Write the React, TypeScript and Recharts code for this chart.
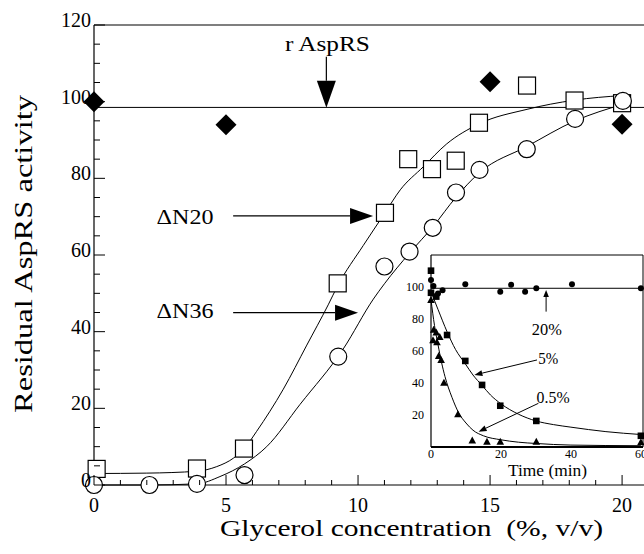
import React from 'react';
import { ComposedChart, Line, Scatter, XAxis, YAxis, ReferenceLine, ReferenceDot } from 'recharts';

const SERIF = 'Liberation Serif, Tinos, Times New Roman, Times, serif';

// ---------- main chart data ----------
const rAspRSPoints = [
  { x: 0, y: 100 }, { x: 5, y: 94 }, { x: 15, y: 105.2 }, { x: 20, y: 94.1 },
];
const rAspRSLevel = 98.5;

const dN20Points = [
  { x: 0.1, y: 4.2 }, { x: 3.9, y: 4.3 }, { x: 5.68, y: 9.5 }, { x: 9.23, y: 52.6 },
  { x: 11.02, y: 71 }, { x: 11.9, y: 85 }, { x: 12.8, y: 82.4 }, { x: 13.7, y: 84.6 },
  { x: 14.58, y: 94.5 }, { x: 16.4, y: 104.2 }, { x: 18.2, y: 100.3 }, { x: 20, y: 99.6 },
];
const dN36Points = [
  { x: 0, y: 0 }, { x: 2.1, y: 0 }, { x: 3.9, y: 0.3 }, { x: 5.7, y: 2.6 },
  { x: 9.25, y: 33.5 }, { x: 11.0, y: 57 }, { x: 11.95, y: 60.9 }, { x: 12.83, y: 67.1 },
  { x: 13.71, y: 76.3 }, { x: 14.6, y: 82.2 }, { x: 16.39, y: 87.6 }, { x: 18.22, y: 95.5 },
  { x: 20.03, y: 100.2 },
];
const dN20Fit = [
  { x: 0, y: 3 }, { x: 2, y: 3.1 }, { x: 3.9, y: 3.6 }, { x: 4.65, y: 4.8 }, { x: 5.28, y: 7 },
  { x: 5.68, y: 9.4 }, { x: 6.16, y: 14 }, { x: 7.17, y: 25 }, { x: 8.06, y: 36.5 },
  { x: 8.87, y: 47 }, { x: 9.23, y: 52 }, { x: 10.2, y: 62.5 }, { x: 11.02, y: 71 },
  { x: 11.6, y: 77 }, { x: 12.47, y: 83 }, { x: 13.36, y: 89 }, { x: 14.58, y: 94.2 },
  { x: 16.4, y: 98 }, { x: 18.2, y: 100.4 }, { x: 20, y: 101.6 },
];
const dN36Fit = [
  { x: 0, y: 0 }, { x: 2, y: 0 }, { x: 3.9, y: 0.3 }, { x: 4.77, y: 2.2 }, { x: 5.7, y: 5.5 },
  { x: 6.54, y: 10 }, { x: 7.8, y: 21 }, { x: 9.44, y: 35.5 }, { x: 10.58, y: 48.5 },
  { x: 11.0, y: 52.5 }, { x: 11.95, y: 60.5 }, { x: 12.85, y: 67.5 }, { x: 13.7, y: 75 },
  { x: 14.6, y: 81.5 }, { x: 16.39, y: 88.3 }, { x: 18.22, y: 95 }, { x: 20.03, y: 99.3 },
];
const mainXTicks = [0, 1, 2, 3, 4, 5, 6, 7, 8, 9, 10, 11, 12, 13, 14, 15, 16, 17, 18, 19, 20];
const mainYTicks = [0, 5, 10, 15, 20, 25, 30, 35, 40, 45, 50, 55, 60, 65, 70, 75, 80, 85, 90, 95, 100, 105, 110, 115, 120];

// ---------- inset data ----------
const inset20Points = [
  { x: 0, y: 104.4 }, { x: 0.7, y: 100.6 }, { x: 2, y: 96 }, { x: 3.3, y: 98 },
  { x: 9.8, y: 101.7 }, { x: 19.8, y: 97.1 }, { x: 22.9, y: 101.4 }, { x: 26.9, y: 97.1 },
  { x: 30.1, y: 99.2 }, { x: 40.3, y: 101.7 }, { x: 60, y: 99.2 },
];
const inset20Level = 99.2;
const inset5Points = [
  { x: 0, y: 110.2 }, { x: 0, y: 96.4 }, { x: 1.5, y: 94 }, { x: 4.6, y: 70 },
  { x: 9.8, y: 53.8 }, { x: 14.6, y: 38.8 }, { x: 19.8, y: 25.8 }, { x: 30.1, y: 16.3 },
  { x: 60, y: 7 },
];
const inset5Fit = [
  { x: 0, y: 97 }, { x: 2, y: 86 }, { x: 4.6, y: 72 }, { x: 7, y: 61 }, { x: 9.8, y: 52 },
  { x: 12, y: 45 }, { x: 14.6, y: 38.5 }, { x: 17, y: 32.5 }, { x: 20, y: 27 },
  { x: 25, y: 20.5 }, { x: 30, y: 16.3 }, { x: 35, y: 14 }, { x: 40, y: 12.4 },
  { x: 50, y: 9.6 }, { x: 60, y: 7.8 },
];
const inset05Points = [
  { x: 0, y: 91.9 }, { x: 0.76, y: 73.3 }, { x: 1.5, y: 71.6 }, { x: 0.57, y: 66.7 },
  { x: 1.7, y: 65.4 }, { x: 2.5, y: 68.7 }, { x: 2.2, y: 56.9 }, { x: 2.9, y: 54.4 },
  { x: 3.7, y: 40.2 }, { x: 7.7, y: 20.4 }, { x: 11.8, y: 4 }, { x: 16, y: 3.3 },
  { x: 19.8, y: 3.3 }, { x: 30.1, y: 3.3 }, { x: 60, y: 3 },
];
const inset05Fit = [
  { x: 0, y: 92 }, { x: 1, y: 76 }, { x: 2, y: 64 }, { x: 3, y: 53 }, { x: 4, y: 44 },
  { x: 6, y: 31 }, { x: 8, y: 21 }, { x: 10, y: 15 }, { x: 12, y: 10.5 }, { x: 15, y: 7 },
  { x: 20, y: 4.5 }, { x: 25, y: 3 }, { x: 30, y: 2.2 }, { x: 40, y: 1.2 }, { x: 60, y: 0.8 },
];
const insetXTicks = [0, 20, 40, 60];
const insetYTicks = [20, 40, 60, 80, 100];

// ---------- shapes ----------
const OpenSquare = (p: any) => (
  <rect x={p.cx - 8.5} y={p.cy - 8.5} width={17} height={17} fill="#fff" stroke="#000" strokeWidth={1.2} />
);
const OpenCircle = (p: any) => (
  <circle cx={p.cx} cy={p.cy} r={8.5} fill="#fff" stroke="#000" strokeWidth={1.2} />
);
const Diamond = (p: any) => (
  <polygon points={`${p.cx},${p.cy - 10.5} ${p.cx + 10.5},${p.cy} ${p.cx},${p.cy + 10.5} ${p.cx - 10.5},${p.cy}`} fill="#000" />
);
const SmallDot = (p: any) => <circle cx={p.cx} cy={p.cy} r={3} fill="#000" />;
const SmallSquare = (p: any) => <rect x={p.cx - 3.3} y={p.cy - 3.3} width={6.6} height={6.6} fill="#000" />;
const SmallTriangle = (p: any) => (
  <polygon points={`${p.cx},${p.cy - 4} ${p.cx + 3.8},${p.cy + 3} ${p.cx - 3.8},${p.cy + 3}`} fill="#000" />
);

const arrowShape = (headLen: number, headHalf: number, sw: number) => (p: any) => {
  const { x1, y1, x2, y2 } = p;
  const dx = x2 - x1;
  const dy = y2 - y1;
  const len = Math.hypot(dx, dy) || 1;
  const ux = dx / len;
  const uy = dy / len;
  const bx = x2 - ux * headLen;
  const by = y2 - uy * headLen;
  const nx = -uy;
  const ny = ux;
  return (
    <g>
      <line x1={x1} y1={y1} x2={bx} y2={by} stroke="#000" strokeWidth={sw} />
      <polygon
        points={`${x2},${y2} ${bx + nx * headHalf},${by + ny * headHalf} ${bx - nx * headHalf},${by - ny * headHalf}`}
        fill="#000"
      />
    </g>
  );
};

const fontStyle = { fontFamily: SERIF };

const textShape = (text: string, fontSize: number, textLength?: number) => (p: any) => (
  <text
    x={p.cx}
    y={p.cy}
    textAnchor="middle"
    fontSize={fontSize}
    style={fontStyle}
    fill="#000"
    textLength={textLength}
    lengthAdjust={textLength ? 'spacingAndGlyphs' : undefined}
  >
    {text}
  </text>
);

const MainXTick = (p: any) => {
  const { x, y, payload } = p;
  const v = payload.value;
  const major = v % 5 === 0;
  return (
    <g>
      <line x1={x} x2={x} y1={y} y2={y - (major ? 10 : 5)} stroke="#000" strokeWidth={1} />
      {major && (
        <text x={x} y={y + 27} textAnchor="middle" fontSize={20} style={fontStyle} fill="#000">
          {v}
        </text>
      )}
    </g>
  );
};

const MainYTick = (p: any) => {
  const { x, y, payload } = p;
  const v = payload.value;
  const major = v % 20 === 0;
  return (
    <g>
      <line x1={x} x2={x + (major ? 11 : 6)} y1={y} y2={y} stroke="#000" strokeWidth={1} />
      {major && (
        <text x={x - 3} y={y + 2} textAnchor="end" fontSize={20} style={fontStyle} fill="#000">
          {v}
        </text>
      )}
    </g>
  );
};

const InsetXTick = (p: any) => {
  const { x, y, payload } = p;
  return (
    <text x={x} y={y + 11} textAnchor="middle" fontSize={12} style={fontStyle} fill="#000">
      {payload.value}
    </text>
  );
};

const InsetYTick = (p: any) => {
  const { x, y, payload } = p;
  return (
    <text x={x - 7} y={y + 4} textAnchor="end" fontSize={12} style={fontStyle} fill="#000">
      {payload.value}
    </text>
  );
};

export default function App() {
  return (
    <div style={{ position: 'absolute', left: 0, top: 0, width: 644, height: 554, background: '#fff', fontFamily: SERIF }}>
      {/* main chart */}
      <div style={{ position: 'absolute', left: 0, top: 0 }}>
        <ComposedChart width={644} height={554} margin={{ top: 25, right: 0, bottom: 0, left: 0 }}>
          <XAxis
            type="number"
            dataKey="x"
            domain={[0, 20.83]}
            ticks={mainXTicks}
            interval={0}
            height={69}
            tickLine={false}
            tickSize={0}
            tickMargin={0}
            axisLine={{ stroke: '#000', strokeWidth: 1.2 }}
            tick={MainXTick}
          />
          <YAxis
            type="number"
            dataKey="y"
            domain={[0, 120]}
            ticks={mainYTicks}
            interval={0}
            width={94}
            tickLine={false}
            tickSize={0}
            tickMargin={0}
            axisLine={{ stroke: '#000', strokeWidth: 1.2 }}
            tick={MainYTick}
          />
          <ReferenceLine y={120} stroke="#000" strokeWidth={1.2} />
          <ReferenceLine y={rAspRSLevel} stroke="#000" strokeWidth={1} />
          <Line data={dN20Fit} dataKey="y" type="monotone" dot={false} stroke="#000" strokeWidth={1} isAnimationActive={false} />
          <Line data={dN36Fit} dataKey="y" type="monotone" dot={false} stroke="#000" strokeWidth={1} isAnimationActive={false} />
          <Scatter data={rAspRSPoints} dataKey="y" shape={Diamond} isAnimationActive={false} />
          <Scatter data={dN20Points} dataKey="y" shape={OpenSquare} isAnimationActive={false} />
          <Scatter data={dN36Points} dataKey="y" shape={OpenCircle} isAnimationActive={false} />
          <ReferenceLine segment={[{ x: 8.8, y: 111.7 }, { x: 8.8, y: 98.4 }]} shape={arrowShape(27, 9.5, 1.2)} />
          <ReferenceLine segment={[{ x: 5.27, y: 70.2 }, { x: 10.57, y: 70.2 }]} shape={arrowShape(23, 8, 1.2)} />
          <ReferenceLine segment={[{ x: 5.27, y: 44.95 }, { x: 10.0, y: 44.95 }]} shape={arrowShape(23, 8, 1.2)} />
          <ReferenceDot x={8.84} y={113.2} r={1} shape={textShape('r AspRS', 22, 85)} />
          <ReferenceDot x={3.45} y={68.1} r={1} shape={textShape('ΔN20', 22, 57)} />
          <ReferenceDot x={3.45} y={43.6} r={1} shape={textShape('ΔN36', 22, 57)} />
        </ComposedChart>
      </div>

      {/* inset chart */}
      <div style={{ position: 'absolute', left: 380, top: 250 }}>
        <ComposedChart width={264} height={235} margin={{ top: 5, right: 1, bottom: 0, left: 0 }}>
          <XAxis
            type="number"
            dataKey="x"
            domain={[0, 60.6]}
            ticks={insetXTicks}
            interval={0}
            height={38}
            tickLine={false}
            tickSize={0}
            tickMargin={0}
            axisLine={{ stroke: '#000', strokeWidth: 1.8 }}
            tick={InsetXTick}
          />
          <YAxis
            type="number"
            dataKey="y"
            domain={[0, 120]}
            ticks={insetYTicks}
            interval={0}
            width={51}
            tickLine={false}
            tickSize={0}
            tickMargin={0}
            axisLine={{ stroke: '#000', strokeWidth: 1.2 }}
            tick={InsetYTick}
          />
          <ReferenceLine y={120} stroke="#000" strokeWidth={1} />
          <ReferenceLine x={60.6} stroke="#000" strokeWidth={1} />
          <ReferenceLine y={inset20Level} stroke="#000" strokeWidth={1} />
          <Line data={inset5Fit} dataKey="y" type="monotone" dot={false} stroke="#000" strokeWidth={1} isAnimationActive={false} />
          <Line data={inset05Fit} dataKey="y" type="monotone" dot={false} stroke="#000" strokeWidth={1} isAnimationActive={false} />
          <Scatter data={inset20Points} dataKey="y" shape={SmallDot} isAnimationActive={false} />
          <Scatter data={inset5Points} dataKey="y" shape={SmallSquare} isAnimationActive={false} />
          <Scatter data={inset05Points} dataKey="y" shape={SmallTriangle} isAnimationActive={false} />
          <ReferenceLine segment={[{ x: 32.9, y: 84.6 }, { x: 32.9, y: 98.1 }]} shape={arrowShape(7, 2.8, 1)} />
          <ReferenceLine segment={[{ x: 30.3, y: 54.4 }, { x: 12.4, y: 45 }]} shape={arrowShape(8, 3, 1)} />
          <ReferenceLine segment={[{ x: 30.7, y: 27.3 }, { x: 13.6, y: 9.6 }]} shape={arrowShape(8, 3, 1)} />
          <ReferenceDot x={33.1} y={70} r={1} shape={textShape('20%', 16, 30)} />
          <ReferenceDot x={33.5} y={51.9} r={1} shape={textShape('5%', 16, 20)} />
          <ReferenceDot x={34.9} y={27.5} r={1} shape={textShape('0.5%', 16, 33)} />
        </ComposedChart>
      </div>

      {/* axis titles */}
      <svg width={644} height={554} style={{ position: 'absolute', left: 0, top: 0, pointerEvents: 'none' }}>
        <text x={411.5} y={536} textAnchor="middle" fontSize={23} style={fontStyle} fill="#000" textLength={383} lengthAdjust="spacingAndGlyphs">
          {'Glycerol concentration \u00A0(%, v/v)'}
        </text>
        <text
          transform="translate(32,254) rotate(-90)"
          textAnchor="middle"
          fontSize={25}
          style={fontStyle}
          fill="#000"
          textLength={318}
          lengthAdjust="spacingAndGlyphs"
        >
          Residual AspRS activity
        </text>
        <text x={547.5} y={476} textAnchor="middle" fontSize={16} style={fontStyle} fill="#000" textLength={79} lengthAdjust="spacingAndGlyphs">
          Time (min)
        </text>
      </svg>
    </div>
  );
}
